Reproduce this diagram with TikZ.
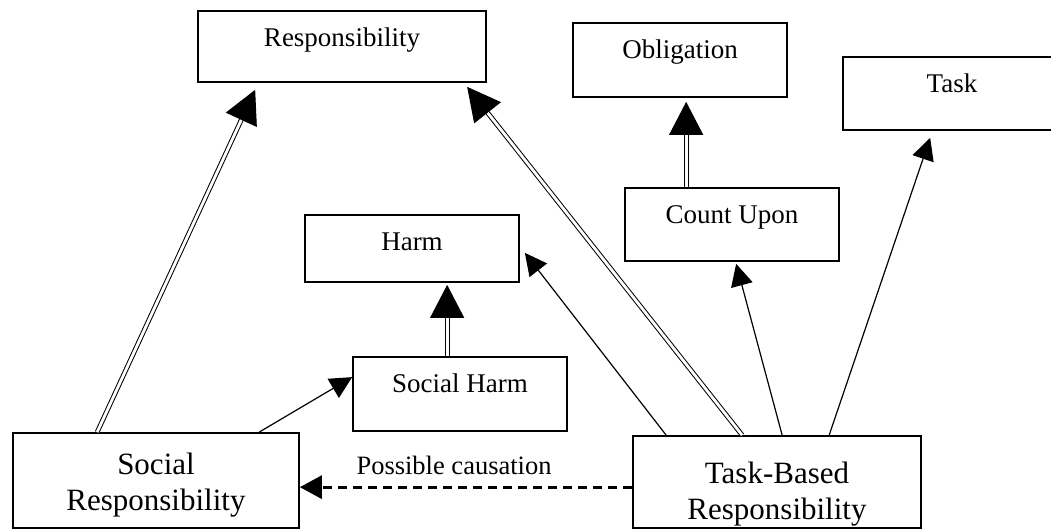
\documentclass[tikz,border=0pt]{standalone}
\usepackage{fontspec}
\setmainfont{Liberation Serif}
\usetikzlibrary{arrows.meta,calc}
\begin{document}
\begin{tikzpicture}[x=1pt,y=-1pt,
  box/.style={draw,line width=1.7pt,inner sep=0pt,font=\fontsize{27}{30}\selectfont,text height=35pt},
  bigbox/.style={draw,line width=1.7pt,inner sep=0pt,align=center,font=\fontsize{31}{36}\selectfont},
  sgl/.style={line width=1.2pt,-{Triangle[length=22pt,width=22pt]}},
  dbl/.style={line width=1pt,double,double distance=2.8pt,-{Triangle[length=33pt,width=34pt]}},
  dsh/.style={line width=3pt,dash pattern=on 9pt off 6pt,-{Triangle[length=22pt,width=23pt]}},
  lab/.style={font=\fontsize{26.5}{30}\selectfont,inner sep=0pt}]
\useasboundingbox (0,0) rectangle (1051,530);
\clip (0,0) rectangle (1051,530);
\fill[white] (0,0) rectangle (1051,530);

\node[box,minimum width=288pt,minimum height=71pt,text depth=36pt] (resp) at (342,46.5) {Responsibility};
\node[box,minimum width=214pt,minimum height=74pt,text depth=39pt] (obl) at (680,60) {Obligation};
\node[box,minimum width=218pt,minimum height=73pt,text depth=38pt] (task) at (952,93.5) {Task};
\node[box,minimum width=214pt,minimum height=73pt,text depth=38pt] (cu) at (732,224.5) {Count Upon};
\node[box,minimum width=214pt,minimum height=67pt,text depth=32pt] (harm) at (412,248.5) {Harm};
\node[box,minimum width=214pt,minimum height=74pt,text depth=39pt] (sh) at (460,394) {Social Harm};
\node[bigbox,minimum width=286pt,minimum height=95pt,text height=77pt,text depth=18pt] (sr) at (156,480.5) {Social\\Responsibility};
\node[bigbox,minimum width=288pt,minimum height=92pt,text height=83pt,text depth=9pt] (tb) at (777,482) {Task-Based\\Responsibility};

\draw[dbl] ($(sr.north west)+(85,0)$) -- ($(resp.south west)+(58,7)$);
\draw[dbl] ($(tb.north west)+(110,0)$) -- ($(resp.south west)+(270,4)$);
\draw[sgl] ($(tb.north west)+(34,0)$) -- ($(harm.south east)+(5,-30)$);
\draw[sgl] ($(tb.north west)+(150,0)$) -- ($(cu.south west)+(112,2)$);
\draw[sgl] ($(tb.north west)+(197,0)$) -- ($(task.south west)+(88,7)$);
\draw[dbl] ($(cu.north west)+(62,0)$) -- ($(obl.south west)+(114,4)$);
\draw[dbl] ($(sh.north west)+(95,0)$) -- ($(harm.south west)+(143,2)$);
\draw[sgl] ($(sr.north west)+(247,0)$) -- ($(sh.north west)+(0,21)$);
\draw[dsh] ($(tb.north west)+(0,52)$) -- node[lab,pos=0.536,anchor=base,yshift=13pt] (pc) {Possible causation} ($(sr.north east)+(0,55)$);
\end{tikzpicture}
\end{document}
